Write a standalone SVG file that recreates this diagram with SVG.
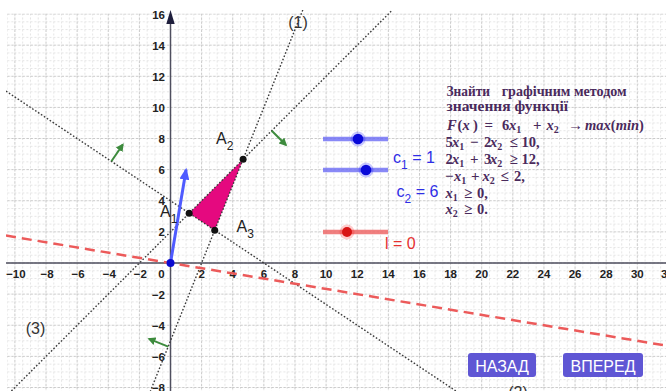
<svg xmlns="http://www.w3.org/2000/svg" width="666" height="391" viewBox="0 0 666 391">
<style>
.ax{stroke:#4f4f5f;stroke-width:1.5;fill:none}
.num{font-family:"Liberation Sans",Arial,sans-serif;font-weight:bold;font-size:11.5px;fill:#222}
.nx{text-anchor:middle}
.ny{text-anchor:end}
.dot{stroke:#3a3a3a;stroke-width:1.4;stroke-dasharray:1.6 1.9;fill:none}
.lbl{font-family:"Liberation Sans",Arial,sans-serif;font-size:16px;fill:#222}
.sub{font-size:12px}
.gr{stroke:#3d8b3d;stroke-width:2;fill:none;marker-end:url(#ga)}
.pt{fill:#111}
.m{font-family:"Liberation Serif","Times New Roman",serif;font-weight:bold;font-size:14.5px;fill:#4a2a5c}
.i{font-style:italic}
.ms{font-size:10px}
.op{font-size:15px}
.btn rect{fill:#5f56d4}
.btn text{font-family:"Liberation Sans",Arial,sans-serif;font-size:16px;fill:#fff;text-anchor:middle}
.sl{font-family:"Liberation Sans",Arial,sans-serif;font-size:16px}
</style>
<defs>
<pattern id="grid" patternUnits="userSpaceOnUse" x="170" y="262.5" width="31.12" height="31.12">
<path d="M8.28 0V31.12M16.06 0V31.12M23.84 0V31.12M0 8.28H31.12M0 16.06H31.12M0 23.84H31.12" stroke="#e4e4e4" stroke-width="1" stroke-dasharray="2 2"/>
<path d="M0.5 0V31.12M0 0.5H31.12" stroke="#c8c8c8" stroke-width="1" stroke-dasharray="2.5 1.5"/>
</pattern>
<clipPath id="pc"><rect x="6" y="10" width="660" height="381"/></clipPath>
<marker id="ga" viewBox="0 0 10 10" refX="8" refY="5" markerWidth="4" markerHeight="4" orient="auto"><path d="M0 0L10 5L0 10z" fill="#3d8b3d"/></marker>
<marker id="ba" viewBox="0 0 12 10" refX="10" refY="5" markerWidth="4" markerHeight="3.3" orient="auto"><path d="M0 0L12 5L0 10z" fill="#4f5bff"/></marker>
</defs>
<rect width="666" height="391" fill="#fff"/>
<rect id="grid-area" x="7" y="13.5" width="659" height="377.5" fill="url(#grid)"/>

<g id="axes">
<line class="ax" x1="6" y1="263" x2="666" y2="263"/>
<line class="ax" x1="170.5" y1="20" x2="170.5" y2="391"/>
<path d="M170.5 10L166.3 24L174.7 24z" fill="#1e1e3c"/>
<g class="num nx">
<text x="15.9" y="277.5">−10</text><text x="47" y="277.5">−8</text><text x="78.1" y="277.5">−6</text><text x="109.3" y="277.5">−4</text><text x="140.4" y="277.5">−2</text>
<text x="201.6" y="277.5">2</text><text x="232.7" y="277.5">4</text><text x="263.9" y="277.5">6</text><text x="295" y="277.5">8</text><text x="326.1" y="277.5">10</text><text x="357.2" y="277.5">12</text><text x="388.3" y="277.5">14</text><text x="419.5" y="277.5">16</text><text x="450.6" y="277.5">18</text><text x="481.7" y="277.5">20</text><text x="512.8" y="277.5">22</text><text x="543.9" y="277.5">24</text><text x="575.1" y="277.5">26</text><text x="606.2" y="277.5">28</text><text x="637.3" y="277.5">30</text>
</g>
<text class="num" x="661" y="277.5">3</text>
<text class="num nx" x="161.5" y="277.5">0</text>
<g class="num ny">
<text x="165" y="18.5">16</text><text x="165" y="49.6">14</text><text x="165" y="80.8">12</text><text x="165" y="111.9">10</text><text x="165" y="143">8</text><text x="165" y="174.1">6</text><text x="165" y="205.3">4</text><text x="165" y="236.4">2</text>
<text x="165" y="298.6">−2</text><text x="165" y="329.7">−4</text><text x="165" y="360.9">−6</text><text x="165" y="392">−8</text>
</g>
</g>

<g id="region">
<polygon points="189.17,213.21 243.12,159.27 214.72,230.24" fill="#e5097f"/>
</g>

<g id="connectors" clip-path="url(#pc)">
<line id="line1" class="dot" x1="302.8" y1="10" x2="150.4" y2="391"/>
<line id="line2" class="dot" x1="6" y1="91.1" x2="455.9" y2="391"/>
<line id="line3" class="dot" x1="11.4" y1="391" x2="392.4" y2="10"/>
<line id="level" x1="6" y1="235.6" x2="666" y2="345.6" stroke="#ec5a5a" stroke-width="2.5" stroke-dasharray="10 6"/>
<line class="gr" x1="111.4" y1="161.3" x2="122.8" y2="144.6"/>
<line class="gr" x1="271.7" y1="130.7" x2="286" y2="145"/>
<line class="gr" x1="168.2" y1="346.6" x2="149" y2="338.9"/>
<line id="vector" x1="170.5" y1="263" x2="186.06" y2="169.64" stroke="#4f5bff" stroke-width="3" marker-end="url(#ba)"/>
</g>

<g id="points">
<circle cx="170.5" cy="263" r="4" fill="#0a0ad0"/>
<circle class="pt" cx="189.17" cy="213.21" r="3.5"/>
<circle class="pt" cx="243.12" cy="159.27" r="3.5"/>
<circle class="pt" cx="214.72" cy="230.24" r="3.5"/>
</g>

<g id="labels" class="lbl">
<text x="216" y="143.5">A<tspan class="sub" dy="6.5">2</tspan></text>
<text x="160" y="216.5">A<tspan class="sub" dy="6.5">1</tspan></text>
<text x="236.5" y="231.5">A<tspan class="sub" dy="6.5">3</tspan></text>
<text x="298" y="28" text-anchor="middle" fill="#333">(1)</text>
<text x="35.5" y="334" text-anchor="middle" fill="#333">(3)</text>
<text x="518" y="398" text-anchor="middle" fill="#333">(2)</text>
</g>

<g id="slider-c1">
<line x1="323" y1="139" x2="388" y2="139" stroke="#6c6cf5" stroke-opacity="0.8" stroke-width="4.5"/>
<circle cx="358" cy="139" r="7.5" fill="#0000ff" fill-opacity="0.22"/>
<circle cx="358" cy="139" r="5.3" fill="#0808d8"/>
<text class="sl" x="393" y="163" fill="#2e2ee6">c<tspan class="sub" dy="6">1</tspan><tspan dy="-6"> = 1</tspan></text>
</g>
<g id="slider-c2">
<line x1="323" y1="170" x2="388" y2="170" stroke="#6c6cf5" stroke-opacity="0.8" stroke-width="4.5"/>
<circle cx="366" cy="170" r="7.5" fill="#0000ff" fill-opacity="0.22"/>
<circle cx="366" cy="170" r="5.3" fill="#0808d8"/>
<text class="sl" x="396.5" y="197" fill="#2e2ee6">c<tspan class="sub" dy="6">2</tspan><tspan dy="-6"> = 6</tspan></text>
</g>
<g id="slider-l">
<line x1="323" y1="232" x2="388" y2="232" stroke="#ee6a6a" stroke-opacity="0.85" stroke-width="4.5"/>
<circle cx="347" cy="232" r="7.5" fill="#ff0000" fill-opacity="0.2"/>
<circle cx="347" cy="232" r="5" fill="#d81414"/>
<text class="sl" x="385" y="248.5" fill="#e53030">l = 0</text>
</g>

<g id="task">
<text class="m" y="95.5"><tspan x="446.5" textLength="43.5" lengthAdjust="spacingAndGlyphs">Знайти</tspan><tspan x="501.7" textLength="125" lengthAdjust="spacingAndGlyphs">графічним методом</tspan></text>
<text class="m" x="446.5" y="110.7" textLength="121.5" lengthAdjust="spacingAndGlyphs">значення функції</text>
<text class="m" y="129.5"><tspan x="447" class="i">F</tspan><tspan x="457.5">(</tspan><tspan x="462.5" class="i">x</tspan><tspan x="473">)</tspan><tspan x="484.5" class="op">=</tspan><tspan x="502">6</tspan><tspan x="509" class="i">x</tspan><tspan class="ms" dy="3">1</tspan><tspan x="533" dy="-3" class="op">+</tspan><tspan x="546.5" class="i">x</tspan><tspan class="ms" dy="3">2</tspan><tspan x="568" dy="-3" class="op">→</tspan><tspan x="585" class="i">max</tspan><tspan>(</tspan><tspan class="i">min</tspan><tspan>)</tspan></text>
<text class="m" y="146.5"><tspan x="445.5">5</tspan><tspan x="452" class="i">x</tspan><tspan class="ms" dy="3">1</tspan><tspan x="470" dy="-3" class="op">−</tspan><tspan x="484">2</tspan><tspan x="490" class="i">x</tspan><tspan class="ms" dy="3">2</tspan><tspan x="509.5" dy="-3" class="op">≤</tspan><tspan x="521.5">10,</tspan></text>
<text class="m" y="163.5"><tspan x="445.5">2</tspan><tspan x="452" class="i">x</tspan><tspan class="ms" dy="3">1</tspan><tspan x="470" dy="-3" class="op">+</tspan><tspan x="484">3</tspan><tspan x="490" class="i">x</tspan><tspan class="ms" dy="3">2</tspan><tspan x="509.5" dy="-3" class="op">≥</tspan><tspan x="521.5">12,</tspan></text>
<text class="m" y="180.5"><tspan x="445" class="op">−</tspan><tspan x="454" class="i">x</tspan><tspan class="ms" dy="3">1</tspan><tspan x="471" dy="-3" class="op">+</tspan><tspan x="482.5" class="i">x</tspan><tspan class="ms" dy="3">2</tspan><tspan x="500.5" dy="-3" class="op">≤</tspan><tspan x="514">2,</tspan></text>
<text class="m" y="197.5"><tspan x="445.5" class="i">x</tspan><tspan class="ms" dy="3">1</tspan><tspan x="464" dy="-3" class="op">≥</tspan><tspan x="477">0,</tspan></text>
<text class="m" y="214"><tspan x="445.5" class="i">x</tspan><tspan class="ms" dy="3">2</tspan><tspan x="464" dy="-3" class="op">≥</tspan><tspan x="477">0.</tspan></text>
</g>

<g id="btn-back" class="btn">
<rect x="468" y="353" width="68" height="24" rx="3"/>
<text x="502" y="371.5">НАЗАД</text>
</g>
<g id="btn-next" class="btn">
<rect x="563" y="353" width="80" height="24" rx="3"/>
<text x="603" y="371.5">ВПЕРЕД</text>
</g>
</svg>
